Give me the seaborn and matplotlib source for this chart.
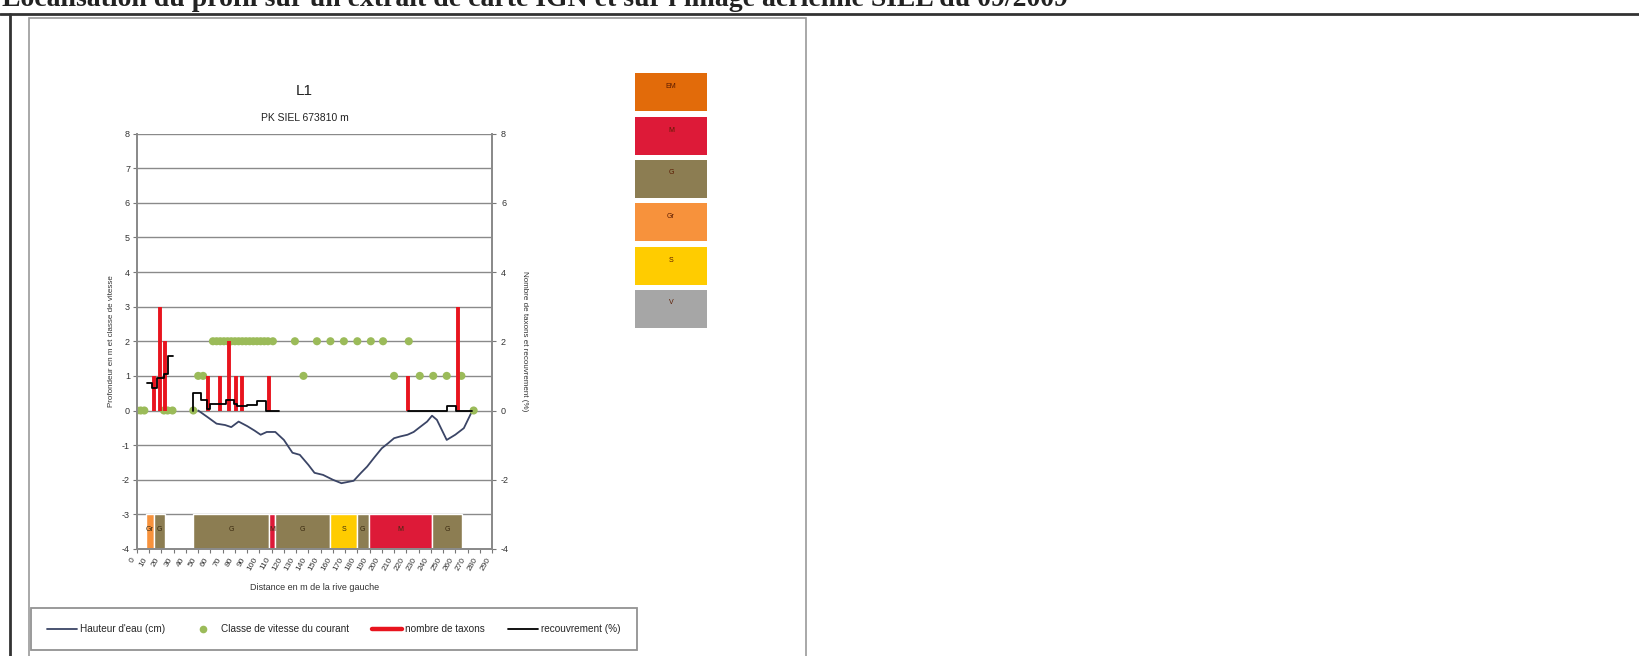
import numpy as np
import pandas as pd
import matplotlib
matplotlib.use("Agg")
import matplotlib.pyplot as plt
from matplotlib.patches import Rectangle
from matplotlib.lines import Line2D
import seaborn as sns

# --- Donnees lues sur le profil L1 ---
# hauteur d'eau (m, negatif)
depth_x = [50, 58, 65, 72, 77, 83, 90, 96, 101, 106, 113, 120, 127, 133, 140, 145,
           152, 160, 167, 177, 183, 188, 194, 200, 205, 210, 215, 221, 226, 230,
           237, 241, 245, 253, 260, 267, 274]
depth_y = [0, -0.2, -0.38, -0.42, -0.48, -0.32, -0.45, -0.58, -0.7, -0.62, -0.62,
           -0.85, -1.22, -1.28, -1.57, -1.8, -1.86, -2.0, -2.1, -2.03, -1.8, -1.62,
           -1.35, -1.09, -0.95, -0.8, -0.75, -0.7, -0.62, -0.51, -0.32, -0.15,
           -0.27, -0.85, -0.7, -0.51, 0]

# classe de vitesse du courant
vit_x = [0, 3, 6, 22, 25, 29, 46, 50, 54,
         62, 65, 68, 71, 74, 77, 80, 83, 86, 89, 92, 95, 98, 101, 104, 107, 111,
         129, 136, 147, 158, 169, 180, 191, 201, 210, 222, 231, 242, 253, 265, 275]
vit_y = [0, 0, 0, 0, 0, 0, 0, 1, 1,
         2, 2, 2, 2, 2, 2, 2, 2, 2, 2, 2, 2, 2, 2, 2, 2, 2,
         2, 1, 2, 2, 2, 2, 2, 2, 1, 2, 1, 1, 1, 1, 0]

# nombre de taxons
taxons_x = [14, 19, 23, 58, 68, 75, 81, 86, 108, 221, 262]
taxons_y = [1, 3, 2, 1, 1, 2, 1, 1, 1, 1, 3]

# recouvrement (%) - trois troncons
rec_seg = [1, 1, 1, 1, 1, 1,
           2, 2, 2, 2, 2, 2, 2, 2, 2, 2, 2, 2,
           3, 3, 3, 3]
rec_x = [8, 12, 16, 22, 25, 29,
         46, 46, 52, 57, 60, 73, 79, 82, 90, 98, 105, 116,
         221, 253, 261, 274]
rec_y = [0.8, 0.65, 0.93, 1.05, 1.58, 1.58,
         0, 0.5, 0.29, 0.05, 0.19, 0.31, 0.19, 0.12, 0.16, 0.26, 0.0, 0.0,
         0, 0.14, 0, 0]

# substrat
sub_start = [7, 13.6, 46, 107.5, 113, 158, 179.7, 189.3, 241]
sub_end = [13.6, 23, 107.5, 113, 158, 179.7, 189.3, 241, 265.5]
sub_code = ["Gr", "G", "G", "M", "G", "S", "G", "M", "G"]

leg_codes = ["EM", "M", "G", "Gr", "S", "V"]
leg_colors = ["#E26B0A", "#DD1A38", "#8C7D52", "#F7923C", "#FFCC00", "#A6A6A6"]
code_color = dict(zip(leg_codes, leg_colors))

x_ticks = list(range(0, 291, 10))

W, H = 1640, 656

sns.set_theme(style="white")
plt.rcParams['font.family'] = ['Liberation Sans', 'DejaVu Sans']
plt.rcParams['axes.unicode_minus'] = False

fig = plt.figure(figsize=(W / 100, H / 100), dpi=100)


def fx(px):
    return px / W


def fy(py):
    return 1 - py / H


# entete coupe + cadres de la page
fig.text(fx(2), fy(-1), "Localisation du profil sur un extrait de carte IGN et sur l'image aérienne SIEL du 09/2009",
         family=['Liberation Serif', 'DejaVu Serif'], fontweight='bold', fontsize=20,
         ha='left', va='center', color='#222222')
fig.add_artist(Line2D([0, 1], [fy(14), fy(14)], color='#333333', lw=2, transform=fig.transFigure))
fig.add_artist(Line2D([fx(10), fx(10)], [fy(14), 0], color='#333333', lw=2, transform=fig.transFigure))
fig.add_artist(Rectangle((fx(29), fy(660)), fx(806 - 29), (660 - 18) / H, transform=fig.transFigure,
                         fill=False, edgecolor='#9a9a9a', lw=1.2))

ax = fig.add_axes([fx(137), fy(549), fx(492 - 137), (549 - 133.5) / H])
ax2 = ax.twinx()

for a in (ax, ax2):
    a.set_ylim(-4, 8)
    a.set_xlim(0, 290)

ax.set_yticks(range(-4, 9))
ax2.set_yticks(range(-4, 9, 2))
ax.set_xticks(x_ticks)
ax.set_xticklabels([str(t) for t in x_ticks], rotation=60, ha='right', fontsize=6, color='#333333')
ax.tick_params(axis='both', direction='out', length=3, width=0.8, color='#777777', labelsize=6.5,
               labelcolor='#333333', pad=2)
ax.tick_params(axis='x', bottom=True, labelsize=6)
ax.tick_params(axis='y', left=True)
ax2.tick_params(axis='y', right=True, direction='out', length=3, width=0.8, color='#777777',
                labelsize=6.5, labelcolor='#333333')
ax.grid(axis='y', color='#8a8a8a', lw=1)
ax.set_axisbelow(True)
for s in ax.spines.values():
    s.set_color('#8a8a8a')
for s in ax2.spines.values():
    s.set_color('#8a8a8a')
ax.spines['top'].set_visible(False)
ax2.spines['top'].set_visible(False)

# substrat
ax.barh([-3.5] * len(sub_start), np.array(sub_end) - np.array(sub_start), left=sub_start,
        height=1, color=[code_color[c] for c in sub_code], zorder=2)
for s0, s1, c in zip(sub_start, sub_end, sub_code):
    ax.text((s0 + s1) / 2, -3.45, c, ha='center', va='center', fontsize=5, color='#3a2a10', zorder=3)

# hauteur d'eau
depth_df = pd.DataFrame({"x": depth_x, "y": depth_y})
sns.lineplot(data=depth_df, x="x", y="y", ax=ax, color="#3B4566", lw=1.3, sort=False, zorder=4)

# classe de vitesse
vit_df = pd.DataFrame({"x": vit_x, "y": vit_y})
sns.scatterplot(data=vit_df, x="x", y="y", ax=ax, color="#9BBB59", s=34, edgecolor='none', zorder=5)

# nombre de taxons
ax2.vlines(taxons_x, 0, taxons_y, color="#E8141E", lw=2.8, zorder=6)

# recouvrement
rec_df = pd.DataFrame({"seg": rec_seg, "x": rec_x, "y": rec_y})
sns.lineplot(data=rec_df, x="x", y="y", units="seg", estimator=None, ax=ax2, color="black",
             lw=1.3, drawstyle="steps-post", sort=False, zorder=7)

ax.set_xlabel("Distance en m de la rive gauche", fontsize=6.5, color='#333333', labelpad=8)
ax.set_ylabel("Profondeur en m et classe de vitesse", fontsize=5.8, color='#333333', labelpad=5)
ax2.set_ylabel("Nombre de taxons et recouvrement (%)", fontsize=5.8, color='#333333',
               rotation=270, labelpad=14)

# titres
fig.text(fx(304), fy(91), "L1", ha='center', va='center', fontsize=11, color='#222222')
fig.text(fx(305), fy(118), "PK SIEL 673810 m", ha='center', va='center', fontsize=7.5, color='#222222')

# legende des series
handles = [
    Line2D([], [], color="#3B4566", lw=1.3),
    Line2D([], [], color="#9BBB59", marker='o', ls='none', markersize=5.5, markeredgecolor='none'),
    Line2D([], [], color="#E8141E", lw=3.2),
    Line2D([], [], color="black", lw=1.3),
]
labels = ["Hauteur d'eau (cm)", "Classe de vitesse du courant", "nombre de taxons", "recouvrement (%)"]
leg = fig.legend(handles, labels, loc='center', bbox_to_anchor=(fx(334), fy(629)), ncol=4,
                 fontsize=7.2, frameon=True, fancybox=False, edgecolor='#777777',
                 handlelength=3.0, columnspacing=2.3, handletextpad=0.3, borderpad=1.6)
leg.get_frame().set_linewidth(1.3)

# legende du substrat
box_top = [73, 117, 160, 203, 247, 290]
for top, code, col in zip(box_top, leg_codes, leg_colors):
    fig.add_artist(Rectangle((fx(635), fy(top + 38)), fx(72), 38 / H, transform=fig.transFigure,
                             facecolor=col, edgecolor='none'))
    fig.text(fx(671), fy(top + 13), code, ha='center', va='center', fontsize=5, color='#5a1a00')

fig.savefig("out.png", dpi=100)
